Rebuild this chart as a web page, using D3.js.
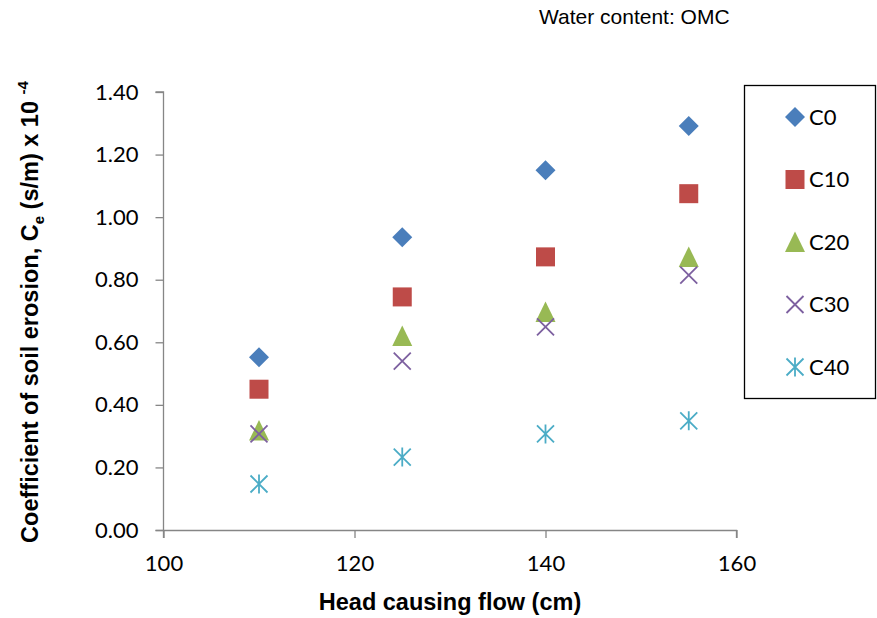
<!DOCTYPE html>
<html>
<head>
<meta charset="utf-8">
<script src="https://cdn.jsdelivr.net/npm/d3@7/dist/d3.min.js"></script>
<style>
  html, body { margin: 0; padding: 0; background: #fff; }
  svg { display: block; }
</style>
</head>
<body>
<svg id="chart" width="877" height="618"></svg>
<script>
// Head causing flow (cm)
const heads = [110, 125, 140, 155];

// Coefficient of soil erosion (x 10^-4 s/m) per mix
const seriesNames = ["C0", "C10", "C20", "C30", "C40"];
const c0  = [0.552, 0.936, 1.150, 1.291];
const c10 = [0.450, 0.745, 0.873, 1.075];
const c20 = [0.318, 0.620, 0.697, 0.873];
const c30 = [0.307, 0.540, 0.649, 0.815];
const c40 = [0.147, 0.233, 0.307, 0.349];

const xTicks = [100, 120, 140, 160];
const yTicks = [0, 0.2, 0.4, 0.6, 0.8, 1.0, 1.2, 1.4];

const colors = ["#4A7EBB", "#BE4B48", "#98B954", "#7D60A0", "#4BACC6"];
const shapes = ["diamond", "square", "triangle", "x", "star"];
const values = [c0, c10, c20, c30, c40];

const svg = d3.select("#chart");
const tickFont = "Lato, 'Open Sans', sans-serif";
const titleFont = "'Liberation Sans', Arial, sans-serif";

const x = d3.scaleLinear().domain([100, 160]).range([163.5, 736.5]);
const y = d3.scaleLinear().domain([0, 1.4]).range([530, 92]);

// axes
const axisColor = "#868686";
const xAxis = svg.append("g").attr("transform", `translate(0,${y(0)})`)
  .call(d3.axisBottom(x).tickValues(xTicks).tickSize(8).tickPadding(17).tickFormat(d3.format("d")));
const yAxis = svg.append("g").attr("transform", `translate(${x(100)},0)`)
  .call(d3.axisLeft(y).tickValues(yTicks).tickSize(8).tickPadding(17).tickFormat(d3.format(".2f")));
[xAxis, yAxis].forEach(g => {
  g.select(".domain").attr("stroke", axisColor).attr("stroke-width", 1.3);
  g.selectAll(".tick line").attr("stroke", axisColor).attr("stroke-width", 1.3);
  g.selectAll(".tick text").attr("fill", "#000").style("font-family", tickFont).style("font-size", "22px");
});
// extend the axis lines out to meet the outer ticks
xAxis.select(".domain").attr("d", `M${x(100) - 8},0.5H${x(160)}V8`);
yAxis.select(".domain").attr("d", `M-8,${y(1.4)}H0V${y(0) + 8}`);

// marker drawing
function drawMarker(g, shape, color, cx, cy) {
  if (shape === "diamond") {
    g.append("path").attr("d", `M${cx},${cy - 10}L${cx + 10},${cy}L${cx},${cy + 10}L${cx - 10},${cy}Z`).attr("fill", color);
  } else if (shape === "square") {
    g.append("rect").attr("x", cx - 9.5).attr("y", cy - 9.5).attr("width", 19).attr("height", 19).attr("fill", color);
  } else if (shape === "triangle") {
    g.append("path").attr("d", `M${cx},${cy - 10.5}L${cx + 10},${cy + 10}L${cx - 10},${cy + 10}Z`).attr("fill", color);
  } else if (shape === "x") {
    const r = 8.5;
    g.append("path").attr("d", `M${cx - r},${cy - r}L${cx + r},${cy + r}M${cx + r},${cy - r}L${cx - r},${cy + r}`)
      .attr("stroke", color).attr("stroke-width", 1.8).attr("fill", "none");
  } else if (shape === "star") {
    const r = 8.5;
    g.append("path").attr("d", `M${cx - r},${cy - r}L${cx + r},${cy + r}M${cx + r},${cy - r}L${cx - r},${cy + r}M${cx},${cy - r - 1}L${cx},${cy + r + 1}`)
      .attr("stroke", color).attr("stroke-width", 1.8).attr("fill", "none");
  }
}

// points
const pts = svg.append("g");
seriesNames.forEach((name, i) => {
  values[i].forEach((v, j) => drawMarker(pts, shapes[i], colors[i], x(heads[j]), y(v)));
});

// legend
const leg = svg.append("g");
leg.append("rect").attr("x", 744.5).attr("y", 85.5).attr("width", 131).attr("height", 313)
  .attr("fill", "#fff").attr("stroke", "#000").attr("stroke-width", 1.3);
seriesNames.forEach((name, i) => {
  const ly = 117 + i * 62.5;
  drawMarker(leg, shapes[i], colors[i], 795, ly);
  leg.append("text").attr("x", 809).attr("y", ly).attr("dy", "0.36em")
    .style("font-family", tickFont).style("font-size", "22px").text(name);
});

// titles
svg.append("text").attr("x", x(130)).attr("y", 610)
  .attr("text-anchor", "middle").style("font-family", titleFont).style("font-weight", "bold").style("font-size", "23.5px")
  .text("Head causing flow (cm)");

const yt = svg.append("text").attr("transform", `translate(38,${(y(0) + y(1.4)) / 2 + 1}) rotate(-90)`)
  .attr("text-anchor", "middle").style("font-family", titleFont).style("font-weight", "bold").style("font-size", "23.5px");
yt.append("tspan").text("Coefficient of soil erosion, C");
yt.append("tspan").attr("dy", 6).style("font-size", "15px").text("e");
yt.append("tspan").attr("dy", -6).text(" (s/m) x 10 ");
yt.append("tspan").attr("dy", -10).style("font-size", "15px").text("-4");

svg.append("text").attr("x", 539).attr("y", 24)
  .style("font-family", titleFont).style("font-size", "21px").text("Water content: OMC");
</script>
</body>
</html>
